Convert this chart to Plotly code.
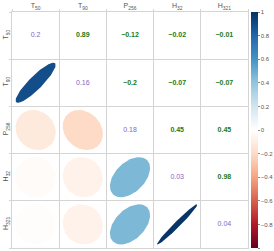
import numpy as np
import plotly.graph_objects as go
from plotly.colors import sample_colorscale

# ---- data ----
labels = ["T<sub>50</sub>", "T<sub>90</sub>", "P<sub>256</sub>", "H<sub>32</sub>", "H<sub>321</sub>"]
diag_values = [0.2, 0.16, 0.18, 0.03, 0.04]
# correlations (upper triangle, row-wise)
corr_pairs = [(0, 1), (0, 2), (0, 3), (0, 4), (1, 2), (1, 3), (1, 4), (2, 3), (2, 4), (3, 4)]
corr_values = [0.89, -0.12, -0.02, -0.01, -0.2, -0.07, -0.07, 0.45, 0.45, 0.98]
cbar_tickvals = [1, 0.8, 0.6, 0.4, 0.2, 0, -0.2, -0.4, -0.6, -0.8, -1]
cbar_ticktext = ["1", "0.8", "0.6", "0.4", "0.2", "0", "\u22120.2", "\u22120.4", "\u22120.6", "\u22120.8", "\u22121"]

rdbu = ["#67001F", "#B2182B", "#D6604D", "#F4A582", "#FDDBC7", "#FFFFFF",
        "#D1E5F0", "#92C5DE", "#4393C3", "#2166AC", "#053061"]
cscale = [[i / (len(rdbu) - 1), c] for i, c in enumerate(rdbu)]

FONT = "Liberation Sans, Arial, sans-serif"
n = len(labels)
fig = go.Figure()

# ellipses in lower triangle (corrplot style)
k = np.linspace(0, 2 * np.pi, 99)
for (i, j), r in zip(corr_pairs, corr_values):
    a = np.arccos(r) / 2
    ex = 0.85 * np.cos(k + a) / 2
    ey = 0.85 * np.cos(k - a) / 2
    col = sample_colorscale(cscale, [(r + 1) / 2])[0]
    fig.add_trace(go.Scatter(x=(i + 1) + ex, y=(j + 1) - ey, mode="lines", fill="toself",
                             fillcolor=col, line=dict(width=0, color=col),
                             hoverinfo="skip", showlegend=False))

def fmt(v):
    return f"{v:g}".replace("-", "\u2212")

fig.add_trace(go.Scatter(
    x=[j + 1 for (i, j) in corr_pairs], y=[i + 1 for (i, j) in corr_pairs],
    mode="text", text=[fmt(v) for v in corr_values],
    textfont=dict(color="#1a7a1a", size=7, family=FONT, weight="bold"),
    hoverinfo="skip", showlegend=False))

fig.add_trace(go.Scatter(
    x=list(range(1, n + 1)), y=list(range(1, n + 1)),
    mode="text", text=[fmt(v) for v in diag_values],
    textfont=dict(color="#8366c4", size=7, family=FONT),
    hoverinfo="skip", showlegend=False))

fig.add_trace(go.Scatter(
    x=[None], y=[None], mode="markers",
    marker=dict(color=[0], colorscale=cscale, cmin=-1, cmax=1, showscale=True,
                colorbar=dict(x=1.013, xanchor="left", xref="paper", y=0.5, yanchor="middle",
                              len=1.0, lenmode="fraction", ypad=0, xpad=0, thickness=7,
                              outlinewidth=0, ticks="outside", ticklen=2, tickwidth=1,
                              tickcolor="#888", tickvals=cbar_tickvals, ticktext=cbar_ticktext,
                              tickfont=dict(size=6, color="#555", family=FONT))),
    hoverinfo="skip", showlegend=False))

grid = dict(tick0=0.5, dtick=1, showgrid=True, gridcolor="#d4d4d4", gridwidth=1,
            ticks="outside", ticklen=2, tickcolor="#d4d4d4")
fig.update_xaxes(range=[0.5, n + 0.5], side="top", tickvals=list(range(1, n + 1)), ticktext=labels,
                 ticks="", showgrid=False, zeroline=False, showline=True, mirror=True,
                 linecolor="#d4d4d4", linewidth=1, minor=grid, automargin=False,
                 tickfont=dict(size=7, color="#555", family=FONT), fixedrange=True)
fig.update_yaxes(range=[n + 0.5, 0.5], tickvals=list(range(1, n + 1)), ticktext=labels,
                 ticks="", showgrid=False, zeroline=False, showline=True, mirror=True,
                 linecolor="#d4d4d4", linewidth=1, minor=grid, tickangle=-90, automargin=False,
                 tickfont=dict(size=7, color="#555", family=FONT), fixedrange=True)

fig.update_layout(width=274, height=251,
                  margin=dict(l=12, r=26, t=12, b=3, pad=0, autoexpand=False),
                  paper_bgcolor="white", plot_bgcolor="white", font=dict(family=FONT))
fig.write_html("out.html", config={"displayModeBar": False},
               post_script="document.body.style.margin='0';document.body.style.overflow='hidden';")
